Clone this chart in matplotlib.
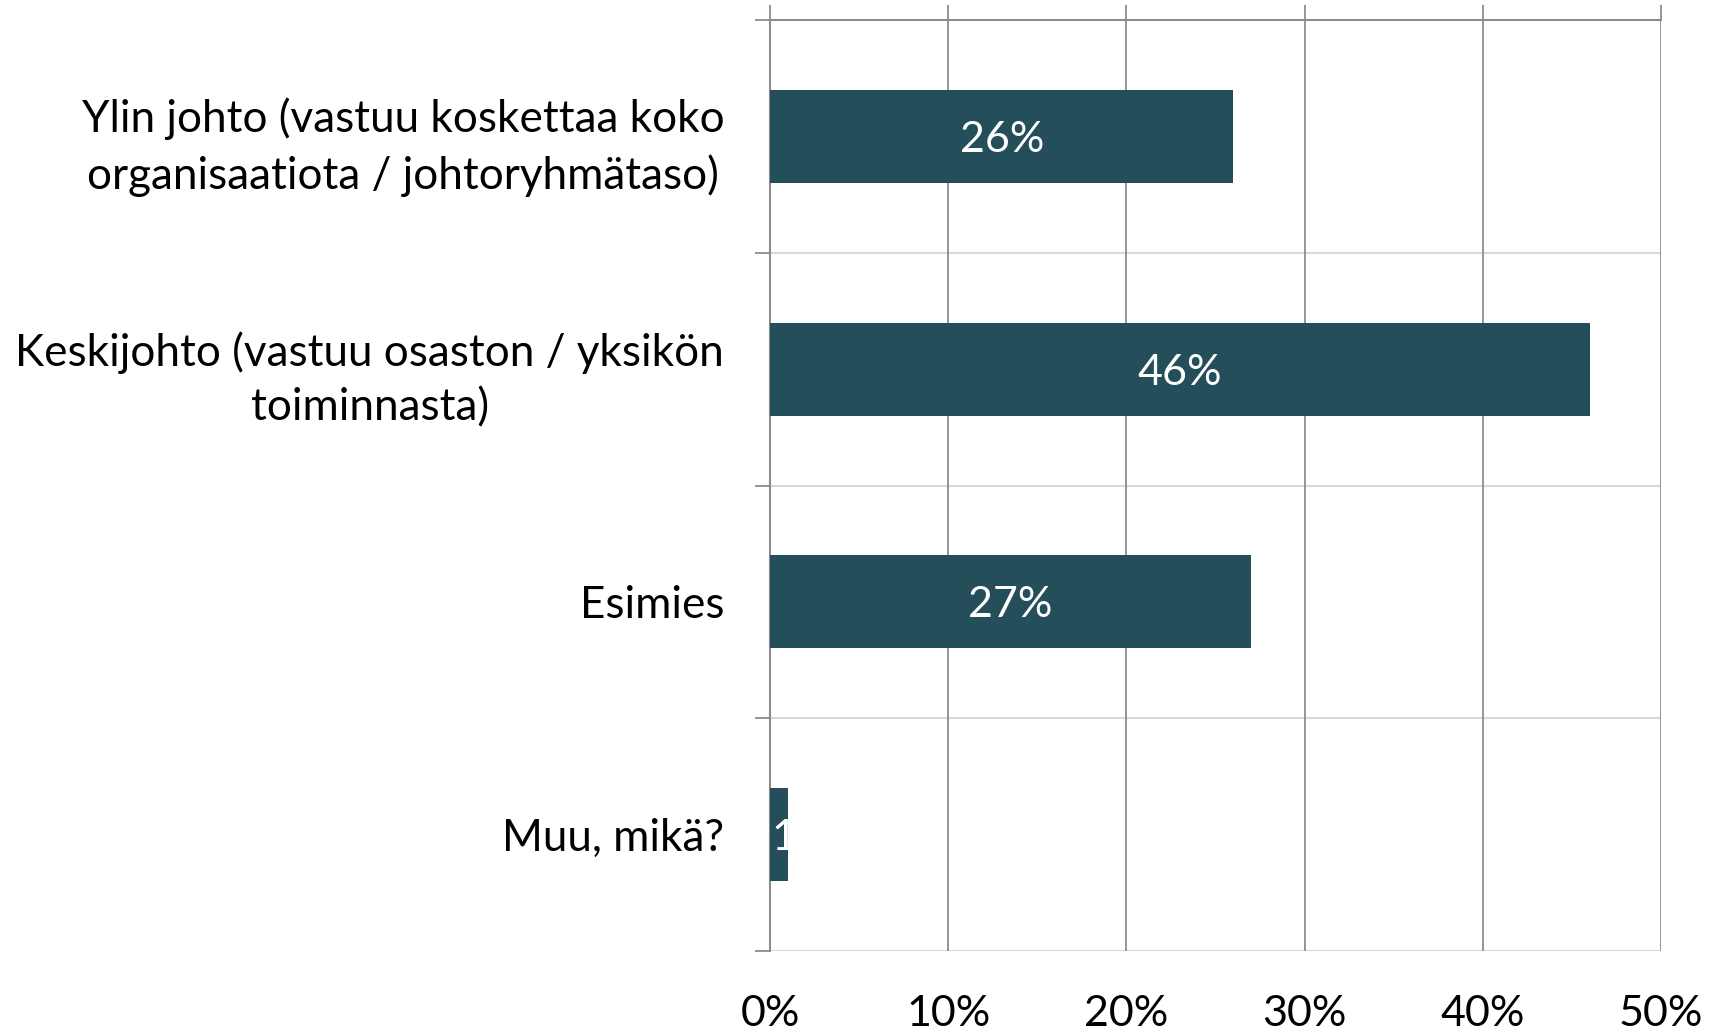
import numpy as np
import matplotlib.pyplot as plt
from matplotlib.ticker import FixedLocator

# Data
categories = [
    "Ylin johto (vastuu koskettaa koko\norganisaatiota / johtoryhmätaso)",
    "Keskijohto (vastuu osaston / yksikön\ntoiminnasta)",
    "Esimies",
    "Muu, mikä?",
]
values = [0.26, 0.46, 0.27, 0.01]
value_labels = ["26%", "46%", "27%", "1%"]
x_ticks = [0.0, 0.1, 0.2, 0.3, 0.4, 0.5]
x_tick_labels = ["0%", "10%", "20%", "30%", "40%", "50%"]

bar_color = "#244e5a"
grid_dark = "#8c8c8c"
grid_light = "#d9d9d9"

plt.rcParams['font.family'] = ['Lato', 'DejaVu Sans']

fig = plt.figure(figsize=(17.17, 10.33), dpi=100)
ax = fig.add_axes([0.4485, 0.0794, 0.9674 - 0.4485, 0.9806 - 0.0794])

y = np.arange(len(categories))
bars = ax.barh(y, values, height=0.4, color=bar_color, zorder=3)

ax.set_xlim(0, 0.5)
ax.set_ylim(len(categories) - 0.5, -0.5)

# vertical grid lines
ax.set_xticks(x_ticks)
ax.set_xticklabels(x_tick_labels, fontsize=31)
ax.xaxis.grid(True, color=grid_dark, linewidth=1.3, zorder=1)
ax.tick_params(axis='x', which='major', top=True, bottom=False,
               labeltop=False, labelbottom=True, direction='out',
               length=11, width=1.3, color=grid_dark, pad=21)

# horizontal lines at category boundaries
bounds = np.arange(len(categories) + 1) - 0.5
for b in bounds[1:]:
    ax.axhline(b, color=grid_light, linewidth=1.5, zorder=1)

ax.set_yticks(y)
ax.set_yticklabels(categories, fontsize=31.7, multialignment='center',
                   linespacing=1.4)
ax.yaxis.set_minor_locator(FixedLocator(bounds))
ax.tick_params(axis='y', which='major', length=0, pad=33)
ax.tick_params(axis='y', which='minor', direction='out', length=11,
               width=1.3, color=grid_dark)

for side in ['right', 'bottom']:
    ax.spines[side].set_visible(False)
ax.spines['top'].set_color(grid_dark)
ax.spines['top'].set_linewidth(1.5)
ax.spines['left'].set_color(grid_dark)
ax.spines['left'].set_linewidth(1.5)

# value labels inside bars (white, clipped to bar)
for bar, v, lab in zip(bars, values, value_labels):
    yc = bar.get_y() + bar.get_height() / 2
    if v < 0.05:
        t = ax.text(0.001, yc, lab, color='white', fontsize=31,
                    ha='left', va='center_baseline', zorder=4)
        t.set_clip_path(bar)
    else:
        ax.text(v / 2, yc, lab, color='white', fontsize=31,
                ha='center', va='center_baseline', zorder=4)

fig.savefig("out.png", dpi=100, facecolor='white')
